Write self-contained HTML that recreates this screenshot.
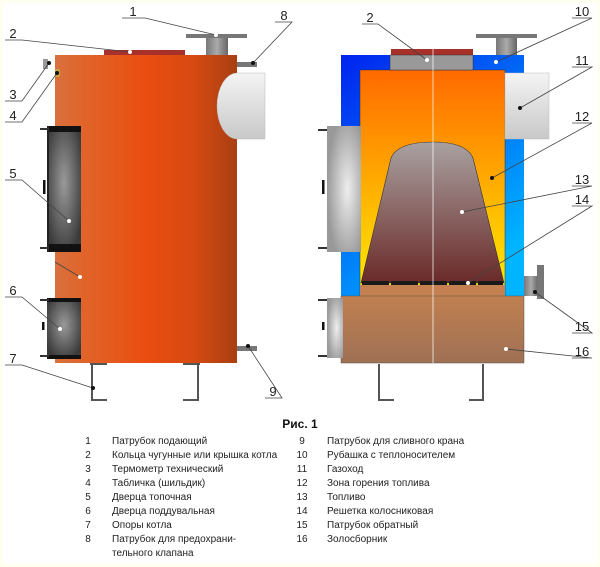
<!DOCTYPE html>
<html><head><meta charset="utf-8"><style>
html,body{margin:0;padding:0;background:#fffff0;}
svg{display:block}
text{font-family:"Liberation Sans",sans-serif;}
</style></head><body>
<svg width="600" height="567" viewBox="0 0 600 567" xmlns="http://www.w3.org/2000/svg">
<defs>
<linearGradient id="body" x1="0" x2="1" y1="0" y2="0">
<stop offset="0" stop-color="#d9703e"/><stop offset="0.15" stop-color="#e0652a"/><stop offset="0.5" stop-color="#ea4d10"/><stop offset="0.75" stop-color="#d84a12"/><stop offset="1" stop-color="#a93f12"/></linearGradient>
<radialGradient id="door" cx="0.5" cy="0.45" r="0.6"><stop offset="0" stop-color="#9a9a9a"/><stop offset="1" stop-color="#3a3a3a"/></radialGradient>
<radialGradient id="doorL" cx="0.6" cy="0.5" r="0.6"><stop offset="0" stop-color="#eeeeee"/><stop offset="1" stop-color="#999"/></radialGradient>
<linearGradient id="duct" x1="0" x2="0" y1="0" y2="1"><stop offset="0" stop-color="#f4f4f4"/><stop offset="1" stop-color="#c8c8c8"/></linearGradient>
<linearGradient id="blue" x1="0" x2="0.6" y1="0" y2="1"><stop offset="0" stop-color="#0022ee"/><stop offset="1" stop-color="#00b4ff"/></linearGradient>
<linearGradient id="fire" x1="0" x2="0" y1="0" y2="1"><stop offset="0" stop-color="#ff6a00"/><stop offset="1" stop-color="#ffee00"/></linearGradient>
<linearGradient id="fuel" x1="0" x2="0" y1="0" y2="1"><stop offset="0" stop-color="#a9a1a1"/><stop offset="1" stop-color="#6a2a28"/></linearGradient>
<linearGradient id="ash" x1="0" x2="0" y1="0" y2="1"><stop offset="0" stop-color="#c08050"/><stop offset="1" stop-color="#9f7055"/></linearGradient>
<linearGradient id="pipe" x1="0" x2="1"><stop offset="0" stop-color="#777"/><stop offset="0.5" stop-color="#aaa"/><stop offset="1" stop-color="#666"/></linearGradient>
</defs>
<rect x="3" y="3" width="594" height="561" fill="#ffffff"/>

<!-- LEFT VIEW -->
<rect x="186" y="34" width="61" height="4" fill="#777"/>
<rect x="206" y="38" width="22" height="17" fill="url(#pipe)"/>
<rect x="104" y="50" width="81" height="5" fill="#a8302a"/>
<rect x="55" y="55" width="182" height="308" fill="url(#body)"/>
<rect x="237" y="62" width="20" height="5" fill="#777"/>
<rect x="237" y="346" width="20" height="5" fill="#777"/>
<path d="M237,73 H265 V139 H237 A20,33 0 0 1 237,73 Z" fill="url(#duct)" stroke="#bbb" stroke-width="0.5"/>
<rect x="43" y="59" width="5" height="10" fill="#999"/>
<rect x="55" y="69" width="5" height="8" fill="#c9a040"/>
<rect x="47" y="126" width="34" height="126" fill="url(#door)"/>
<rect x="47" y="126" width="34" height="6" fill="#111"/>
<rect x="47" y="244" width="34" height="8" fill="#111"/>
<rect x="47" y="126" width="2" height="126" fill="#222"/>
<rect x="40" y="128" width="9" height="2" fill="#333"/><rect x="40" y="247" width="9" height="2" fill="#333"/>
<rect x="43" y="180" width="2.5" height="14" fill="#111"/>
<rect x="47" y="298" width="34" height="60" fill="url(#door)"/>
<rect x="47" y="298" width="34" height="4" fill="#111"/>
<rect x="47" y="355" width="34" height="4" fill="#111"/>
<rect x="40" y="299" width="9" height="2" fill="#333"/><rect x="40" y="355" width="9" height="2" fill="#333"/>
<rect x="42" y="322" width="2.5" height="8" fill="#111"/>
<g fill="none" stroke="#555" stroke-width="2">
<path d="M90,364 H107 M92,364 V400 H107"/>
<path d="M183,364 H200 M198,364 V400 H183"/>
</g>

<!-- RIGHT VIEW -->
<rect x="476" y="34" width="61" height="4" fill="#777"/>
<rect x="496" y="38" width="21" height="17" fill="url(#pipe)"/>
<rect x="341" y="55" width="183" height="241" fill="url(#blue)"/>
<rect x="360" y="70" width="145" height="226" fill="url(#fire)" stroke="#333" stroke-width="0.5"/>
<rect x="391" y="49" width="82" height="6" fill="#a8302a"/>
<rect x="390" y="55" width="83" height="15" fill="#999" stroke="#333" stroke-width="0.5"/>
<rect x="505" y="73" width="44" height="66" fill="url(#duct)" stroke="#bbb" stroke-width="0.5"/>
<path d="M361,283 L391,158 Q398,142 433,142 Q466,142 473,158 L504,283 Z" fill="url(#fuel)" stroke="#333" stroke-width="0.6"/>
<rect x="360" y="285" width="145" height="11" fill="#c48050"/>
<g fill="#1a1a1a"><rect x="362" y="281" width="27" height="4"/><rect x="391" y="281" width="27" height="4"/><rect x="420" y="281" width="27" height="4"/><rect x="449" y="281" width="27" height="4"/><rect x="478" y="281" width="25" height="4"/></g>
<rect x="341" y="296" width="183" height="67" fill="url(#ash)" stroke="#555" stroke-width="0.5"/>
<rect x="327" y="126" width="34" height="126" fill="url(#doorL)"/>
<rect x="318" y="129" width="9" height="2" fill="#333"/><rect x="318" y="247" width="9" height="2" fill="#333"/>
<rect x="322" y="180" width="2.5" height="14" fill="#111"/>
<rect x="327" y="298" width="16" height="60" fill="url(#doorL)"/>
<rect x="318" y="299" width="9" height="2" fill="#333"/><rect x="318" y="355" width="9" height="2" fill="#333"/>
<rect x="322" y="322" width="2.5" height="8" fill="#111"/>
<rect x="524" y="276" width="14" height="20" fill="url(#pipe)"/>
<rect x="537" y="265" width="7" height="34" fill="#777"/>
<line x1="433" y1="49" x2="433" y2="363" stroke="#fff" stroke-width="0.8" opacity="0.9"/>
<g fill="none" stroke="#555" stroke-width="2">
<path d="M379,364 V400 H394"/>
<path d="M483,364 V400 H469"/>
</g>

<g stroke="#444" stroke-width="0.8" fill="none">
<path d="M122,18 H145 L216,35"/>
<path d="M5,40 H22 L130,52"/>
<path d="M275,22 H292 L253,63"/>
<path d="M5,101 H22 L49,63"/>
<path d="M5,122 H22 L57,73"/>
<path d="M5,180 H22 L69,221"/>
<path d="M5,297 H22 L60,329"/>
<path d="M55,262 L80,277"/>
<path d="M5,365 H22 L93,388"/>
<path d="M265,398 H282 L248,346"/>
<path d="M362,24 H378 L427,60"/>
<path d="M572,18 H592 L496,62"/>
<path d="M572,67 H592 L520,108"/>
<path d="M572,123 H592 L492,178"/>
<path d="M572,186 H592 L462,212"/>
<path d="M572,206 H592 L468,283"/>
<path d="M572,333 H592 L535,292"/>
<path d="M572,358 H592 L506,349"/>
</g>
<g fill="#fff"><circle cx="216" cy="35" r="2"/><circle cx="130" cy="52" r="2"/><circle cx="69" cy="221" r="2"/><circle cx="80" cy="277" r="2"/><circle cx="60" cy="329" r="2"/><circle cx="427" cy="60" r="2"/><circle cx="496" cy="62" r="2"/><circle cx="462" cy="212" r="2"/><circle cx="468" cy="283" r="2"/><circle cx="506" cy="349" r="2"/></g>
<g fill="#111"><circle cx="253" cy="63" r="2"/><circle cx="49" cy="63" r="2"/><circle cx="57" cy="73" r="2"/><circle cx="93" cy="388" r="2"/><circle cx="248" cy="346" r="2"/><circle cx="520" cy="108" r="2"/><circle cx="492" cy="178" r="2"/><circle cx="535" cy="292" r="2"/></g>
<g font-size="13" fill="#222" text-anchor="middle">
<text x="133" y="16">1</text><text x="13" y="38">2</text><text x="284" y="20">8</text>
<text x="13" y="99">3</text><text x="13" y="120">4</text><text x="13" y="178">5</text>
<text x="13" y="295">6</text><text x="13" y="363">7</text><text x="273" y="396">9</text>
<text x="370" y="22">2</text><text x="582" y="16">10</text><text x="582" y="65">11</text>
<text x="582" y="121">12</text><text x="582" y="184">13</text><text x="582" y="204">14</text>
<text x="582" y="331">15</text><text x="582" y="356">16</text>
</g>

<text x="300" y="428" font-size="12" font-weight="bold" text-anchor="middle" fill="#111">Рис. 1</text>
<g font-size="10" fill="#222">
<g text-anchor="middle">
<text x="88" y="444">1</text><text x="88" y="458">2</text><text x="88" y="472">3</text><text x="88" y="486">4</text><text x="88" y="500">5</text><text x="88" y="514">6</text><text x="88" y="528">7</text><text x="88" y="542">8</text>
<text x="302" y="444">9</text><text x="302" y="458">10</text><text x="302" y="472">11</text><text x="302" y="486">12</text><text x="302" y="500">13</text><text x="302" y="514">14</text><text x="302" y="528">15</text><text x="302" y="542">16</text>
</g>
<text x="112" y="444">Патрубок подающий</text>
<text x="112" y="458">Кольца чугунные  или крышка котла</text>
<text x="112" y="472">Термометр технический</text>
<text x="112" y="486">Табличка  (шильдик)</text>
<text x="112" y="500">Дверца топочная</text>
<text x="112" y="514">Дверца поддувальная</text>
<text x="112" y="528">Опоры котла</text>
<text x="112" y="542">Патрубок для предохрани-</text>
<text x="112" y="556">тельного клапана</text>
<text x="327" y="444">Патрубок для сливного крана</text>
<text x="327" y="458">Рубашка с теплоносителем</text>
<text x="327" y="472">Газоход</text>
<text x="327" y="486">Зона горения топлива</text>
<text x="327" y="500">Топливо</text>
<text x="327" y="514">Решетка колосниковая</text>
<text x="327" y="528">Патрубок обратный</text>
<text x="327" y="542">Золосборник</text>
</g>
</svg>
</body></html>
